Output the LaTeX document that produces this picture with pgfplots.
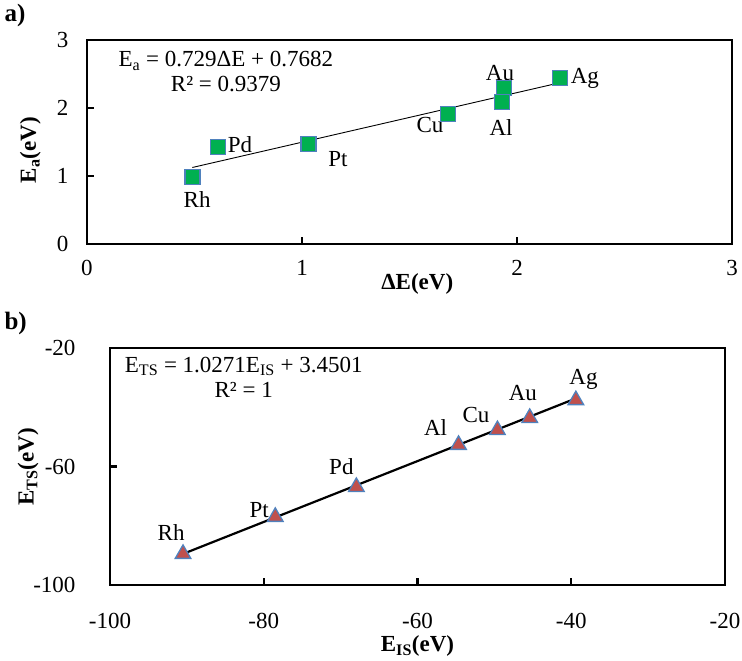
\documentclass[border=0pt]{standalone}
\usepackage{pgfplots}
\pgfplotsset{compat=1.18}
\usepackage{fontspec}
\setmainfont{Liberation Serif}
\definecolor{mgreen}{HTML}{00B050}
\definecolor{mblue}{HTML}{4F81BD}
\definecolor{mred}{HTML}{C0504D}
\begin{document}
\begin{tikzpicture}[x=1pt,y=1pt]
\useasboundingbox (0,0) rectangle (742,661);
\pgfplotsset{
  myax/.style={
    anchor=south west, scale only axis,
    font=\fontsize{23}{27}\selectfont,
    /pgf/number format/assume math mode=true,
    tick align=inside, tick pos=left,
    major tick length=7pt,
    axis line style={line width=2.2pt},
    every tick/.style={line width=2.2pt, black},
    xticklabel style={yshift=-13pt},
    yticklabel style={xshift=-15pt},
    label style={font=\fontsize{23}{27}\selectfont\bfseries},
    clip=false,
  }
}
% ---------------- panel a ----------------
\begin{axis}[myax, at={(87pt,417pt)}, width=645pt, height=204pt,
  xmin=0, xmax=3, ymin=0, ymax=3,
  xtick={0,1,2,3}, ytick={0,1,2,3},
  xlabel={ΔE(eV)},
  ylabel={E\textsubscript{a}(eV)},
  xlabel style={at={(axis description cs:0.512,-0.196)}, anchor=center},
  ylabel style={at={(axis description cs:-0.088,0.46)}, anchor=center},
]
\addplot[only marks, mark=square*, mark size=7.5pt,
  mark options={fill=mgreen, draw=mblue, line width=1.3pt}]
  coordinates {(0.49,0.985) (0.61,1.43) (1.03,1.47) (1.68,1.91) (1.94,2.29) (1.93,2.09) (2.20,2.44)};
\addplot[black, line width=0.9pt] coordinates {(0.49,1.125) (2.20,2.372)};
\node at (axis cs:0.512,0.647) {Rh};
\node at (axis cs:0.712,1.456) {Pd};
\node at (axis cs:1.167,1.25) {Pt};
\node at (axis cs:1.595,1.75) {Cu};
\node at (axis cs:1.921,2.51) {Au};
\node at (axis cs:1.926,1.72) {Al};
\node at (axis cs:2.316,2.44) {Ag};
\node[align=center, inner sep=0pt] at (axis cs:0.646,2.53) {E\textsubscript{a} = 0.729ΔE + 0.7682\\[-2pt]R² = 0.9379};
\end{axis}
% ---------------- panel b ----------------
\begin{axis}[myax, at={(110pt,76pt)}, width=615pt, height=237pt,
  xmin=-100, xmax=-20, ymin=-100, ymax=-20,
  xtick={-100,-80,-60,-40,-20}, ytick={-100,-60,-20},
  xticklabel style={yshift=-12pt},
  yticklabel style={xshift=-16pt},
  xlabel={E\textsubscript{IS}(eV)},
  ylabel={E\textsubscript{TS}(eV)},
  xlabel style={at={(axis description cs:0.5,-0.258)}, anchor=center},
  ylabel style={at={(axis description cs:-0.133,0.498)}, anchor=center},
]
\addplot[only marks, mark=triangle*, mark size=9pt,
  mark options={fill=mred, draw=mblue, line width=1.3pt}]
  coordinates {(-90.5,-89.5) (-78.5,-77.0) (-67.95,-66.9) (-54.66,-52.7) (-49.6,-47.7) (-45.4,-43.6) (-39.4,-37.6)};
\addplot[black, line width=2.2pt] coordinates {(-90.5,-89.50) (-39.4,-37.02)};
\node at (axis cs:-92.05,-82.45) {Rh};
\node at (axis cs:-80.6,-74.7) {Pt};
\node at (axis cs:-69.9,-60.2) {Pd};
\node at (axis cs:-57.65,-46.7) {Al};
\node at (axis cs:-52.4,-42.6) {Cu};
\node at (axis cs:-46.3,-35.2) {Au};
\node at (axis cs:-38.4,-30.5) {Ag};
\node[align=center, inner sep=0pt] at (axis cs:-82.6,-29.8) {E\textsubscript{TS} = 1.0271E\textsubscript{IS} + 3.4501\\[-2pt]R² = 1};
\end{axis}
\node[anchor=west, font=\fontsize{25}{29}\selectfont\bfseries] at (1,646) {a)};
\node[anchor=west, font=\fontsize{25}{29}\selectfont\bfseries] at (1,338) {b)};
\end{tikzpicture}
\end{document}
